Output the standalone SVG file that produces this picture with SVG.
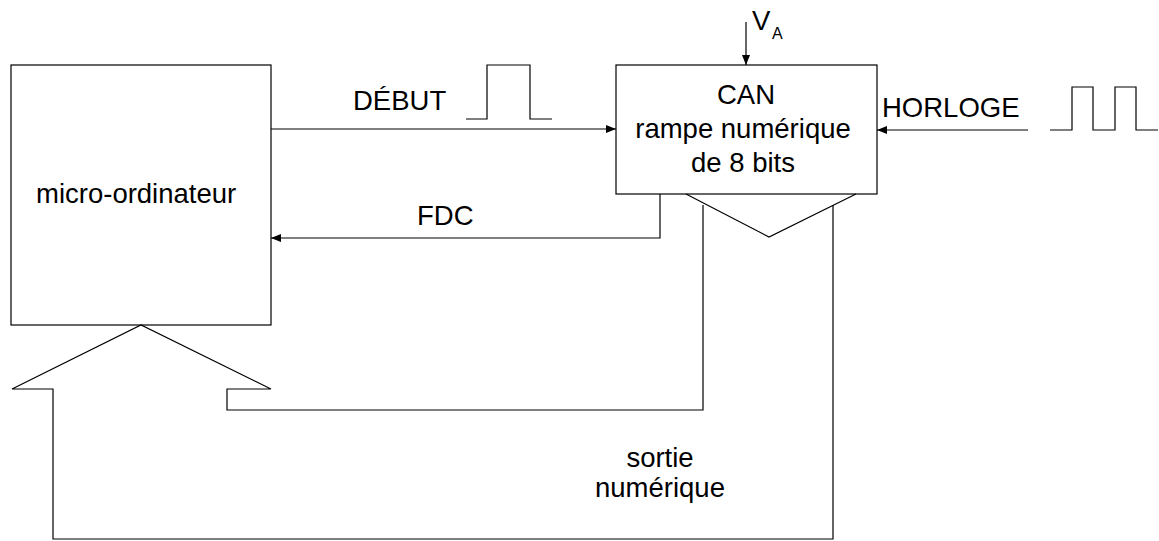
<svg xmlns="http://www.w3.org/2000/svg" width="1159" height="541" viewBox="0 0 1159 541">
<style>
.ln{fill:none;stroke:#000;stroke-width:1.2}
.box{fill:#fff;stroke:#000;stroke-width:1.2}
.t{font-family:"Liberation Sans",Arial,sans-serif;font-size:27.5px;fill:#000}
.m{text-anchor:middle}
</style>
<defs>
<marker id="ah" viewBox="0 0 10 8" refX="10" refY="4" markerWidth="10" markerHeight="8" markerUnits="userSpaceOnUse" orient="auto">
<path d="M0,0 L10,4 L0,8 Z" fill="#000"/>
</marker>
</defs>
<rect width="1159" height="541" fill="#fff"/>
<g id="micro">
<rect class="box" x="11" y="65" width="260" height="260"/>
<text class="t" x="36" y="203">micro-ordinateur</text>
</g>
<g id="can">
<rect class="box" x="616" y="65" width="261" height="129"/>
<text class="t m" x="746" y="104">CAN</text>
<text class="t m" x="743" y="138">rampe numérique</text>
<text class="t m" x="743" y="172">de 8 bits</text>
</g>
<g id="connectors">
<path class="ln" d="M271,129 H616" marker-end="url(#ah)"/>
<path class="ln" d="M660,194 V238 H271" marker-end="url(#ah)"/>
<path class="ln" d="M1028,130 H877" marker-end="url(#ah)"/>
<path class="ln" d="M746,22 V65" marker-end="url(#ah)"/>
<path class="ln" d="M686,194 L769,237 L856,194"/>
<path class="ln" d="M703,205 V410 H227 V389 H271 L141,325 L12,389 H53 V539 H833 V205"/>
</g>
<g id="debut">
<text class="t" x="353" y="110">DÉBUT</text>
<path class="ln" d="M466,119 H487 V65 H530 V119 H552"/>
</g>
<g id="horloge">
<text class="t" x="882" y="117">HORLOGE</text>
<path class="ln" d="M1050,130 H1072 V87 H1093 V130 H1115 V87 H1136 V130 H1158"/>
</g>
<g id="va">
<text class="t" x="752" y="30">V</text>
<text class="t" x="772" y="39" style="font-size:16px">A</text>
</g>
<g id="fdc">
<text class="t" x="417" y="225">FDC</text>
</g>
<g id="sortie">
<text class="t m" x="660" y="467">sortie</text>
<text class="t m" x="660" y="497">numérique</text>
</g>
</svg>
